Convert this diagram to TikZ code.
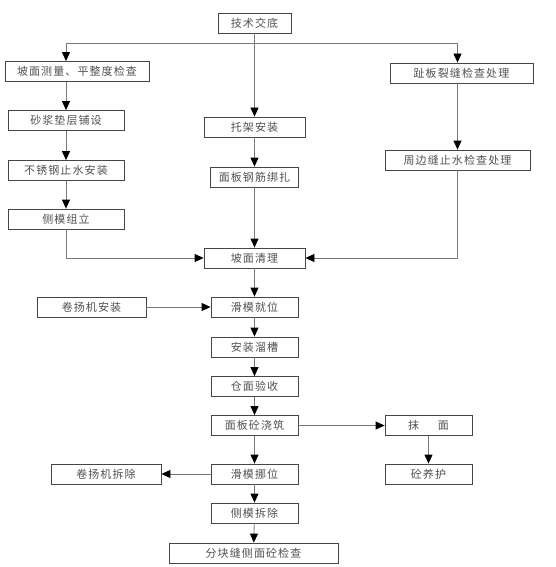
\documentclass[tikz,border=0pt]{standalone}
\usepackage{fontspec}
\setmainfont[LetterSpace=10]{Noto Sans CJK SC}
\definecolor{boxgray}{RGB}{70,70,70}
\definecolor{linegray}{RGB}{120,120,120}
\definecolor{textgray}{RGB}{80,80,80}
\usetikzlibrary{arrows.meta}
\usetikzlibrary{positioning}
\tikzset{
  stepbox/.style={draw=boxgray, line width=0.8pt, text=textgray, inner sep=0pt,
    minimum height=20, font=\fontsize{11}{12}\selectfont},
  flow/.style={draw=linegray, line width=0.8pt, -{Triangle[width=8pt,length=9pt,color=black]}},
  plain/.style={draw=linegray, line width=0.8pt}
}

\begin{document}
\begin{tikzpicture}[x=1pt,y=-1pt]
  \useasboundingbox (0,0) rectangle (555,567);

  % main column
  \node [stepbox, minimum width=73] (jsjd) at (254.5,23) {技术交底};
  \node [stepbox, minimum width=101] (tjaz) at (254.5,127) {托架安装};
  \node [stepbox, minimum width=88] (mbgj) at (254.5,177) {面板钢筋绑扎};
  \node [stepbox, minimum width=101] (pmql) at (254.5,258) {坡面清理};
  \node [stepbox, minimum width=87] (hmjw) at (254.5,307) {滑模就位};
  \node [stepbox, minimum width=87] (azlc) at (254.5,347) {安装溜槽};
  \node [stepbox, minimum width=87] (cmys) at (254.5,386.5) {仓面验收};
  \node [stepbox, minimum width=87] (mbtz) at (254.5,425.5) {面板砼浇筑};
  \node [stepbox, minimum width=87] (hmnw) at (254.5,474) {滑模挪位};
  \node [stepbox, minimum width=87] (cmcc) at (254.5,513) {侧模拆除};
  \node [stepbox, minimum width=169] (fkf) at (253.5,553) {分块缝侧面砼检查};

  % left column
  \node [stepbox, minimum width=144] (pmcl) at (77,71.5) {坡面测量、平整度检查};
  \node [stepbox, minimum width=116] (sjdc) at (66,120.5) {砂浆垫层铺设};
  \node [stepbox, minimum width=116] (bxg) at (66,170.5) {不锈钢止水安装};
  \node [stepbox, minimum width=116] (cmzl) at (66,219) {侧模组立};
  \node [stepbox, minimum width=109] (yyjaz) at (91.5,307) {卷扬机安装};
  \node [stepbox, minimum width=110] (yyjcc) at (106,474) {卷扬机拆除};

  % right column
  \node [stepbox, minimum width=143] (zblf) at (461.5,73) {趾板裂缝检查处理};
  \node [stepbox, minimum width=145] (zbf) at (457.5,160) {周边缝止水检查处理};
  \node [stepbox, minimum width=87] (mm) at (428.5,425.5) {抹\hspace{1.7em}面};
  \node [stepbox, minimum width=87] (tyh) at (428.5,474) {砼养护};

  \coordinate (fork) at (254.5,43);

  % connectors
  \draw [plain] (jsjd) -- (fork);
  \draw [flow] (fork) -- (tjaz);
  \draw [flow] (fork) -| (pmcl.north -| sjdc);
  \draw [flow] (fork) -| (zblf.north -| zbf);
  \draw [flow] (tjaz) -- (mbgj);
  \draw [flow] (mbgj) -- (pmql);

  \draw [flow] (pmcl.south -| sjdc) -- (sjdc);
  \draw [flow] (sjdc) -- (bxg);
  \draw [flow] (bxg) -- (cmzl);
  \draw [flow] (cmzl) |- (pmql);

  \draw [flow] (zblf.south -| zbf) -- (zbf);
  \draw [flow] (zbf) |- (pmql);

  \draw [flow] (pmql) -- (hmjw);
  \draw [flow] (yyjaz) -- (hmjw);
  \draw [flow] (hmjw) -- (azlc);
  \draw [flow] (azlc) -- (cmys);
  \draw [flow] (cmys) -- (mbtz);
  \draw [flow] (mbtz) -- (mm);
  \draw [flow] (mm) -- (tyh);
  \draw [flow] (mbtz) -- (hmnw);
  \draw [flow] (hmnw) -- (yyjcc);
  \draw [flow] (hmnw) -- (cmcc);
  \draw [flow] (cmcc) -- (fkf);
\end{tikzpicture}
\end{document}
